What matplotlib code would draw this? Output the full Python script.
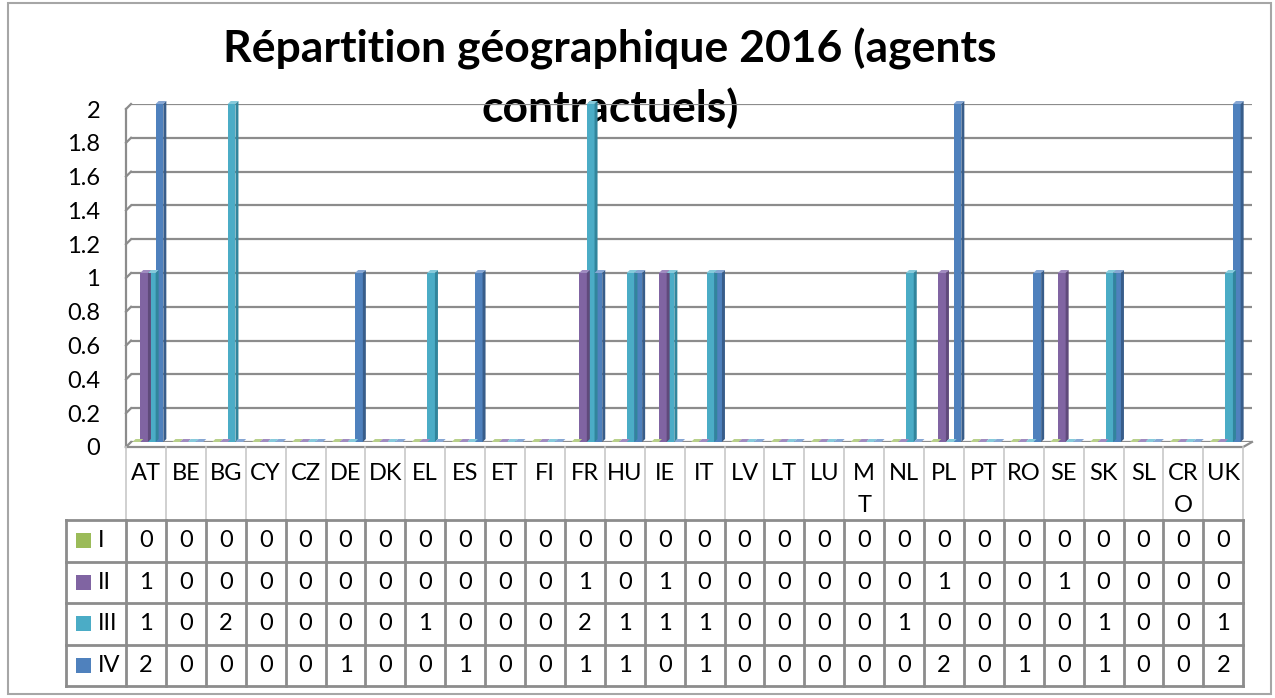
import matplotlib
matplotlib.use('Agg')
import matplotlib.pyplot as plt
from matplotlib.patches import Polygon, Rectangle
from matplotlib.transforms import ScaledTranslation
from matplotlib.ticker import FuncFormatter
import numpy as np

# ---------------- data ----------------
countries = ["AT", "BE", "BG", "CY", "CZ", "DE", "DK", "EL", "ES", "ET", "FI", "FR", "HU", "IE",
             "IT", "LV", "LT", "LU", "MT", "NL", "PL", "PT", "RO", "SE", "SK", "SL", "CRO", "UK"]
header_labels = ["AT", "BE", "BG", "CY", "CZ", "DE", "DK", "EL", "ES", "ET", "FI", "FR", "HU", "IE",
                 "IT", "LV", "LT", "LU", "M\nT", "NL", "PL", "PT", "RO", "SE", "SK", "SL", "CR\nO", "UK"]
series_names = ["I", "II", "III", "IV"]
s_I   = [0, 0, 0, 0, 0, 0, 0, 0, 0, 0, 0, 0, 0, 0, 0, 0, 0, 0, 0, 0, 0, 0, 0, 0, 0, 0, 0, 0]
s_II  = [1, 0, 0, 0, 0, 0, 0, 0, 0, 0, 0, 1, 0, 1, 0, 0, 0, 0, 0, 0, 1, 0, 0, 1, 0, 0, 0, 0]
s_III = [1, 0, 2, 0, 0, 0, 0, 1, 0, 0, 0, 2, 1, 1, 1, 0, 0, 0, 0, 1, 0, 0, 0, 0, 1, 0, 0, 1]
s_IV  = [2, 0, 0, 0, 0, 1, 0, 0, 1, 0, 0, 1, 1, 0, 1, 0, 0, 0, 0, 0, 2, 0, 1, 0, 1, 0, 0, 2]
y_ticks = [0, 0.2, 0.4, 0.6, 0.8, 1, 1.2, 1.4, 1.6, 1.8, 2]
title_lines = ["Répartition géographique 2016 (agents", "contractuels)"]

series = [s_I, s_II, s_III, s_IV]
front_cols = ["#9BBB59", "#8064A2", "#4BACC6", "#4F81BD"]
side_cols = ["#76923C", "#5F4A7B", "#31859C", "#385D8A"]
top_cols = ["#B8D08A", "#A08BC0", "#86CADB", "#86A6D3"]

# ---------------- layout (pixels) ----------------
W, H, DPI = 1275, 698, 100
fig = plt.figure(figsize=(W / DPI, H / DPI), dpi=DPI)
FONT = "Lato"
GRID = "#8C8C8C"
TXT = 17

X0 = 126          # left edge of table columns (front of chart)
CW = 39.9         # column width
D = 5             # 3D depth of walls (px)
XL = X0 + D       # back-wall left
XR = 1252         # back-wall right
Y0 = 442          # value 0 on back wall
Y2 = 104          # value 2 on back wall
n = len(countries)

# overlay axes in pixel coordinates (for table, walls, border, title)
ov = fig.add_axes([0, 0, 1, 1], zorder=0)
ov.set_xlim(0, W)
ov.set_ylim(H, 0)
ov.axis("off")

# chart axes (back wall)
ax = fig.add_axes([XL / W, 1 - Y0 / H, (XR - XL) / W, (Y0 - Y2) / H], zorder=2)
ax.patch.set_alpha(0)
ax.set_xlim((XL - X0) / CW - 0.5, (XR - X0) / CW - 0.5)
ax.set_ylim(0, 2)
ax.set_yticks(y_ticks)
ax.yaxis.set_major_formatter(FuncFormatter(lambda v, p: f"{v:g}"))
ax.set_xticks([])
ax.tick_params(axis="y", length=0, pad=22.3, labelsize=TXT)
for lab in ax.get_yticklabels():
    lab.set_fontfamily(FONT)
    lab.set_transform(lab.get_transform() + ScaledTranslation(0, -D / DPI, fig.dpi_scale_trans))
ax.grid(axis="y", color=GRID, lw=1.6)
ax.set_axisbelow(True)
for s in ax.spines.values():
    s.set_visible(False)

# left wall (front edge + slanted connectors to the grid lines)
def ypx(v):
    return Y0 - (Y0 - Y2) * v / 2.0

ov.plot([X0, X0], [ypx(2) + D, ypx(0) + D], color=GRID, lw=1.6, zorder=1)
for v in y_ticks:
    ov.plot([X0, XL], [ypx(v) + D, ypx(v)], color=GRID, lw=1.6, zorder=1)
# floor front edge and right slant
FR_R = X0 + CW * n
ov.plot([X0, FR_R, XR], [Y0 + D, Y0 + D, Y0], color=GRID, lw=1.6, zorder=1)

# 3D-style bars
bw = 7.7 / CW
dx = 3.0 / CW
dy = 3.0 / (Y0 - Y2) * 2
x = np.arange(n)
for k, vals in enumerate(series):
    xs = x + 0.05 + (k - 1.5) * bw
    bars = ax.bar(xs, vals, width=bw, color=front_cols[k], edgecolor="none", zorder=3)
    for b in bars:
        x0, w, h = b.get_x(), b.get_width(), b.get_height()
        top = Polygon([(x0, h), (x0 + w, h), (x0 + w + dx, h + dy), (x0 + dx, h + dy)],
                      closed=True, facecolor=top_cols[k], edgecolor="none", zorder=4, clip_on=False)
        ax.add_patch(top)
        if h > 0:
            side = Polygon([(x0 + w, 0), (x0 + w + dx, dy), (x0 + w + dx, h + dy), (x0 + w, h)],
                           closed=True, facecolor=side_cols[k], edgecolor="none", zorder=4, clip_on=False)
            ax.add_patch(side)

# ---------------- title ----------------
ov.text(610, 62, title_lines[0], ha="center", va="baseline", fontsize=32,
        fontweight="bold", family=FONT, zorder=5)
ov.text(610, 122, title_lines[1], ha="center", va="baseline", fontsize=32,
        fontweight="bold", family=FONT, zorder=5)

# ---------------- data table ----------------
col_edges = [X0 + CW * i for i in range(n + 1)]
HEAD_T, HEAD_B = Y0 + D, 520
row_edges = [520, 561.5, 603, 644.5, 686]
LAB_L = 66

# header (light lines)
for xe in col_edges:
    ov.plot([xe, xe], [HEAD_T, HEAD_B], color="#C8C8C8", lw=1.2, zorder=1)
for i, lab in enumerate(header_labels):
    cx = (col_edges[i] + col_edges[i + 1]) / 2
    for j, part in enumerate(lab.split("\n")):
        ov.text(cx, 473 + 32 * j, part, ha="center", va="center", fontsize=TXT, family=FONT)

# body grid
for ye in row_edges:
    ov.plot([LAB_L, col_edges[-1]], [ye, ye], color=GRID, lw=2.0, zorder=1)
for xe in [LAB_L] + col_edges:
    ov.plot([xe, xe], [row_edges[0], row_edges[-1]], color=GRID, lw=2.0, zorder=1)

for r, (name, vals) in enumerate(zip(series_names, series)):
    cy = (row_edges[r] + row_edges[r + 1]) / 2
    ov.add_patch(Rectangle((76, cy - 7.5), 15, 15, facecolor=front_cols[r], edgecolor="none"))
    ov.text(98, cy, name, ha="left", va="center", fontsize=TXT, family=FONT)
    for i, v in enumerate(vals):
        cx = (col_edges[i] + col_edges[i + 1]) / 2
        ov.text(cx, cy, str(v), ha="center", va="center", fontsize=TXT, family=FONT)

# outer border
ov.add_patch(Rectangle((8, 3), 1263, 691, facecolor="none", edgecolor="#A6A6A6", lw=1.5))

fig.savefig("out.png", dpi=DPI)
